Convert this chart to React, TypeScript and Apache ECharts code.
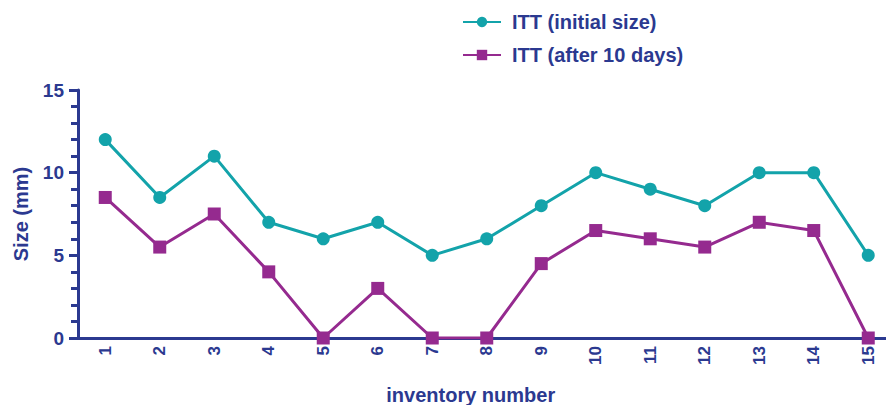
import React, { useEffect, useRef } from "react";
import * as echarts from "echarts";

const categories = ["1","2","3","4","5","6","7","8","9","10","11","12","13","14","15"];
const initialSize = [12, 8.5, 11, 7, 6, 7, 5, 6, 8, 10, 9, 8, 10, 10, 5];
const after10Days = [8.5, 5.5, 7.5, 4, 0, 3, 0, 0, 4.5, 6.5, 6, 5.5, 7, 6.5, 0];
const seriesNames = ["ITT (initial size)", "ITT (after 10 days)"];

const NAVY = "#2B3990";
const TEAL = "#13A3AA";
const PURPLE = "#952A8F";
const FONT = "Liberation Sans, Arial, sans-serif";

export default function App() {
  const ref = useRef<HTMLDivElement>(null);
  useEffect(() => {
    if (!ref.current) return;
    const chart = echarts.init(ref.current, null, { renderer: "svg" });
    chart.setOption({
      animation: false,
      backgroundColor: "#ffffff",
      legend: {
        orient: "vertical",
        left: 457,
        top: 7,
        itemWidth: 38,
        itemHeight: 13,
        itemGap: 13,
        textStyle: { color: NAVY, fontWeight: "bold", fontSize: 20, fontFamily: FONT, padding: [0, 0, 0, 6] },
        data: [seriesNames[0], seriesNames[1]],
      },
      grid: { left: 78, right: -9.5, top: 90, bottom: 67, containLabel: false, outerBoundsMode: "none" },
      xAxis: {
        type: "category",
        data: categories,
        boundaryGap: true,
        name: "inventory number",
        nameLocation: "middle",
        nameGap: 47,
        nameTextStyle: { color: NAVY, fontWeight: "bold", fontSize: 20, fontFamily: FONT, padding: [0, 32, 0, 0] },
        axisLine: { lineStyle: { color: NAVY, width: 3 } },
        axisTick: { alignWithLabel: true, length: 6, lineStyle: { color: NAVY, width: 3 } },
        axisLabel: { rotate: 90, color: NAVY, fontWeight: "bold", fontSize: 17, fontFamily: FONT, margin: 8, interval: 0 },
        splitLine: { show: false },
      },
      yAxis: {
        type: "value",
        min: 0,
        max: 15,
        interval: 5,
        name: "Size (mm)",
        nameLocation: "middle",
        nameGap: 47,
        nameRotate: 90,
        nameTextStyle: { color: NAVY, fontWeight: "bold", fontSize: 20, fontFamily: FONT },
        axisLine: { show: true, lineStyle: { color: NAVY, width: 3 } },
        axisTick: { show: true, length: 9, lineStyle: { color: NAVY, width: 3 } },
        minorTick: { show: true, splitNumber: 5, length: 7, lineStyle: { color: NAVY, width: 3 } },
        axisLabel: { color: NAVY, fontWeight: "bold", fontSize: 19, fontFamily: FONT, margin: 14 },
        splitLine: { show: false },
        minorSplitLine: { show: false },
      },
      series: [
        {
          name: seriesNames[0],
          type: "line",
          data: initialSize,
          symbol: "circle",
          symbolSize: 13,
          itemStyle: { color: TEAL },
          lineStyle: { color: TEAL, width: 3 },
        },
        {
          name: seriesNames[1],
          type: "line",
          data: after10Days,
          symbol: "rect",
          symbolSize: 13,
          itemStyle: { color: PURPLE },
          lineStyle: { color: PURPLE, width: 3 },
        },
      ],
    });
    return () => chart.dispose();
  }, []);
  return <div ref={ref} style={{ width: 886, height: 405, position: "absolute", left: 0, top: 0 }} />;
}
